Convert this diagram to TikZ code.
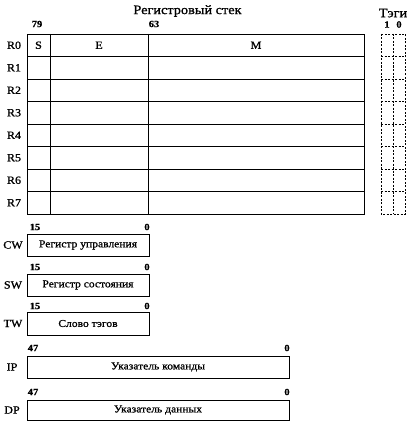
\documentclass[tikz,border=0pt]{standalone}
\usepackage{fontspec}
\setmainfont{Liberation Serif}[FakeStretch=1.1,FakeBold=1]
\begin{document}
\begin{tikzpicture}[x=1pt,y=-1pt,
  frame/.style={line width=0.9pt},
  tagline/.style={line width=0.5pt, dash pattern=on 2pt off 1.5pt},
  reg/.style={draw, line width=0.9pt, inner sep=0pt, minimum height=22pt, font=\fontsize{10.5}{12}\selectfont},
  bitnum/.style={inner sep=0pt, font=\bfseries\fontsize{9.5}{11}\selectfont},
  rname/.style={inner sep=0pt, font=\fontsize{11}{13}\selectfont},
  field/.style={inner sep=0pt, font=\fontsize{11}{13}\selectfont},
  title/.style={inner sep=0pt, font=\fontsize{13}{15}\selectfont}]
\useasboundingbox (0,0) rectangle (416,428);
% titles
\node[title] (ttl) at (187.5,11) {Регистровый стек};
\node[title] (tags) at (393,13) {Тэги};
\node[bitnum] (t1) at (387,24.5) {1};
\node[bitnum] (t0) at (399,24.5) {0};
\node[bitnum] (b79) at (37,24) {79};
\node[bitnum] (b63) at (154,24) {63};
% register stack
\draw[frame] (27,34) rectangle (364,214);
\foreach \k in {1,...,7} {
  \draw[frame] (27,34+\k*22.5) -- (364,34+\k*22.5);
  \draw[tagline] (381,34+\k*22.5) -- (405,34+\k*22.5);
}
\draw[frame] (50,34) -- (50,214);
\draw[frame] (148,34) -- (148,214);
\draw[tagline] (381,34) rectangle (405,214);
\draw[tagline] (393,34) -- (393,214);
\foreach \k in {0,...,7} {
  \node[rname] (r\k) at (14,45.25+\k*22.5) {R\k};
}
\node[field] (fs) at (38.5,45.25) {S};
\node[field] (fe) at (99,45.25) {E};
\node[field] (fm) at (256,45.25) {M};
% control registers
\node[reg, minimum width=122pt] (cw) at (88,245) {Регистр управления};
\node[rname] (cwl) at (13,245) {CW};
\node[bitnum] (cw15) at (35,227) {15};
\node[bitnum] (cw0) at (147,227) {0};
\node[reg, minimum width=122pt] (sw) at (88,285) {Регистр состояния};
\node[rname] (swl) at (13,285) {SW};
\node[bitnum] (sw15) at (35,267) {15};
\node[bitnum] (sw0) at (147,267) {0};
\node[reg, minimum width=122pt, minimum height=23pt] (tw) at (88,323.5) {Слово тэгов};
\node[rname] (twl) at (13,323.5) {TW};
\node[bitnum] (tw15) at (35,306) {15};
\node[bitnum] (tw0) at (147,306) {0};
\node[reg, minimum width=262pt] (ip) at (158,367) {Указатель команды};
\node[rname] (ipl) at (12,367) {IP};
\node[bitnum] (ip47) at (33,348) {47};
\node[bitnum] (ip0) at (287,348) {0};
\node[reg, minimum width=262pt, minimum height=20pt] (dp) at (158,410) {Указатель данных};
\node[rname] (dpl) at (12,410) {DP};
\node[bitnum] (dp47) at (33,392) {47};
\node[bitnum] (dp0) at (287,392) {0};
\end{tikzpicture}
\end{document}
